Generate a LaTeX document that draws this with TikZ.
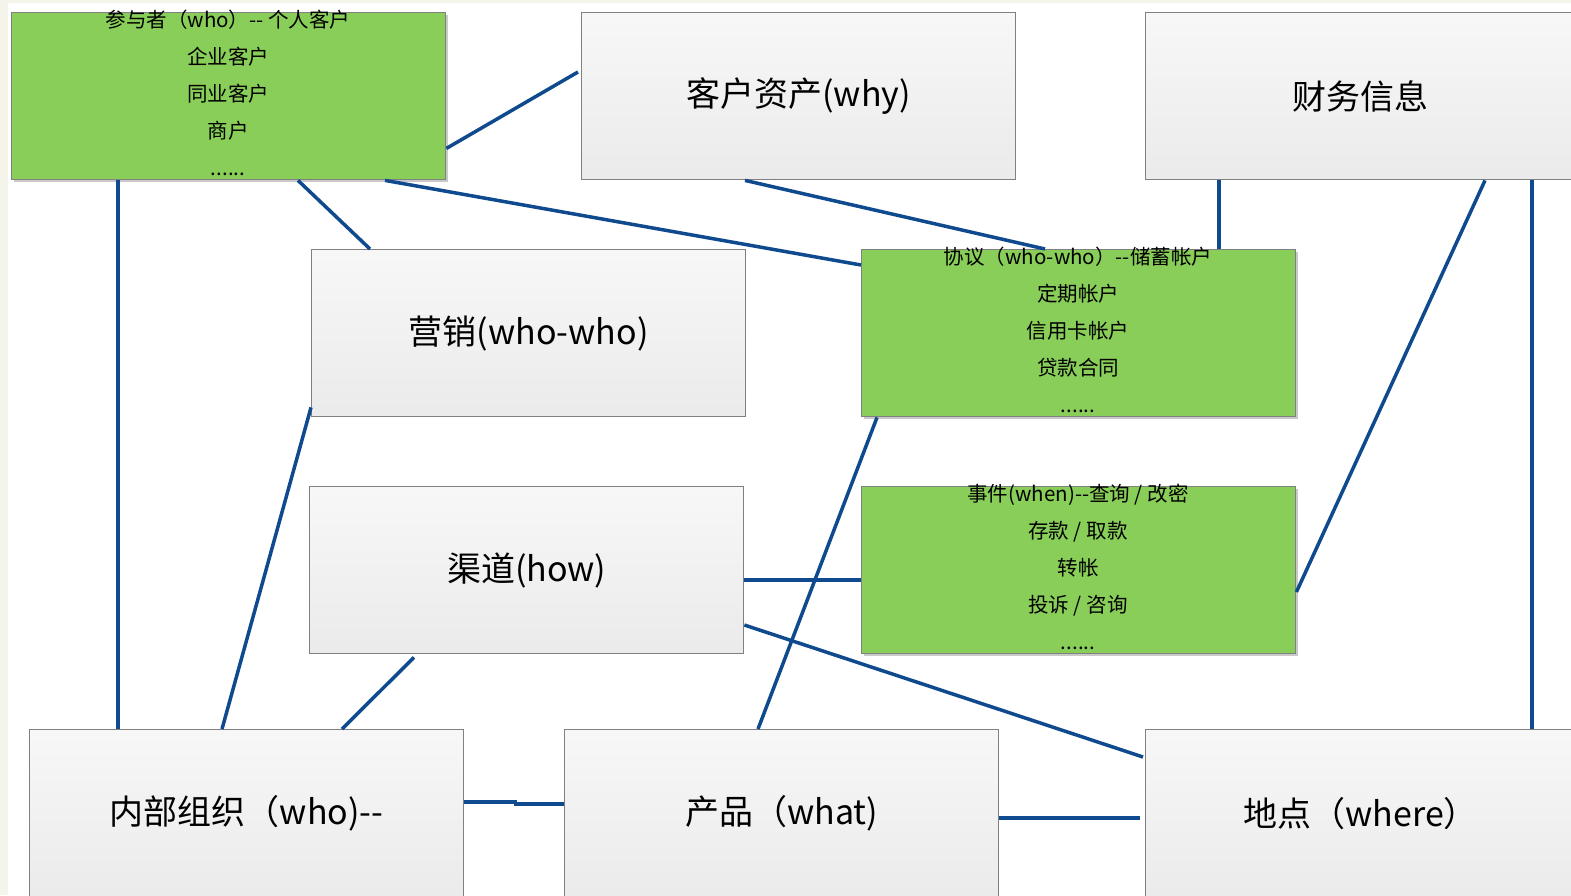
\documentclass[tikz,border=0pt]{standalone}
\usepackage{fontspec}
\newfontfamily\cjk{Noto Sans CJK SC}
\usetikzlibrary{shadows}
\definecolor{lnk}{RGB}{16,74,142}
\definecolor{grn}{RGB}{136,206,88}
\definecolor{bord}{RGB}{128,128,128}
\definecolor{bgstrip}{RGB}{244,244,234}
\tikzset{
  box/.style={draw=bord, line width=1.4pt, minimum width=434pt, minimum height=167pt,
    anchor=north west, inner sep=0pt, top color=white!97!black, bottom color=white!92!black,
    font=\cjk\fontsize{34}{40}\selectfont},
  gbox/.style={draw=bord, line width=1.4pt, minimum width=434pt, minimum height=167pt,
    anchor=north west, inner sep=0pt, fill=grn,
    drop shadow={shadow xshift=2pt, shadow yshift=-2pt, opacity=0.35, fill=black!60}},
  gtext/.style={anchor=base, align=center, inner sep=0pt,
    font=\cjk\fontsize{20.5}{37}\selectfont},
  conn/.style={draw=lnk, line width=3.5pt}
}
\begin{document}
\begin{tikzpicture}[x=1pt,y=-1pt]
\useasboundingbox (0,0) rectangle (1571,895);
\clip (0,0) rectangle (1571,895);
\fill[white] (0,0) rectangle (1571,895);
\fill[bgstrip] (0,0) rectangle (8,895);
\fill[bgstrip] (0,0) rectangle (1571,2.5);

\node[gbox] (par) at (11,12) {};
\node[box] (why) at (581,12) {客户资产(why)};
\node[box, minimum width=430pt] (fin) at (1145,12) {财务信息};
\node[box] (mkt) at (311,249) {营销(who-who)};
\node[gbox] (agr) at (861,249) {};
\node[box] (chn) at (309,486) {渠道(how)};
\node[gbox] (evt) at (861,486) {};
\node[box, minimum height=168pt] (org) at (29,729) {内部组织（who)--};
\node[box, minimum height=168pt] (prd) at (564,729) {产品（what)};
\node[box, minimum height=168pt, minimum width=430pt] (loc) at (1145,729) {地点（where）};

\node[gtext] (partxt) at (228,175) {参与者（who）-- 个人客户\\企业客户\\同业客户\\商户\\......};
\node[gtext] (agrtxt) at (1078,412) {协议（who-who）--储蓄帐户\\定期帐户\\信用卡帐户\\贷款合同\\......};
\node[gtext] (evttxt) at (1078,649) {事件(when)--查询 / 改密\\存款 / 取款\\转帐\\投诉 / 咨询\\......};

\begin{scope}[line cap=butt]
\draw[conn] ([yshift=32pt]par.south east) -- ([xshift=-3pt,yshift=-60pt]why.north west);
\draw[conn] ([xshift=287pt]par.south west) -- ([xshift=59pt]mkt.north west);
\draw[conn] ([xshift=374pt]par.south west) -- ([yshift=-16pt]agr.north west);
\draw[conn] ([xshift=107pt]par.south west) -- ([xshift=89pt]org.north west);
\draw[conn] ([xshift=164pt]why.south west) -- ([xshift=184pt]agr.north west);
\draw[conn] ([xshift=74pt]fin.south west) -- ([xshift=358pt]agr.north west);
\draw[conn] ([xshift=340pt]fin.south west) -- ([yshift=-106pt]evt.north east);
\draw[conn] ([xshift=387pt]fin.south west) -- ([xshift=387pt]loc.north west);
\draw[conn] ([yshift=10pt]mkt.south west) -- ([xshift=193pt]org.north west);
\draw[conn] ([xshift=16pt]agr.south west) -- ([xshift=194pt]prd.north west);
\draw[conn] ([yshift=-94pt]chn.north east) -- ([yshift=-94pt]evt.north west);
\draw[conn] ([xshift=105pt,yshift=-3pt]chn.south west) -- ([xshift=313pt]org.north west);
\draw[conn] ([yshift=-139pt]chn.north east) -- ([xshift=-2pt,yshift=-28pt]loc.north west);
\draw[conn] ([yshift=-73pt]org.north east) -- ++(51,0) |- ([yshift=-75pt]prd.north west);
\draw[conn] ([yshift=-89pt]prd.north east) -- ([xshift=-5pt,yshift=-89pt]loc.north west);
\end{scope}
\end{tikzpicture}
\end{document}
